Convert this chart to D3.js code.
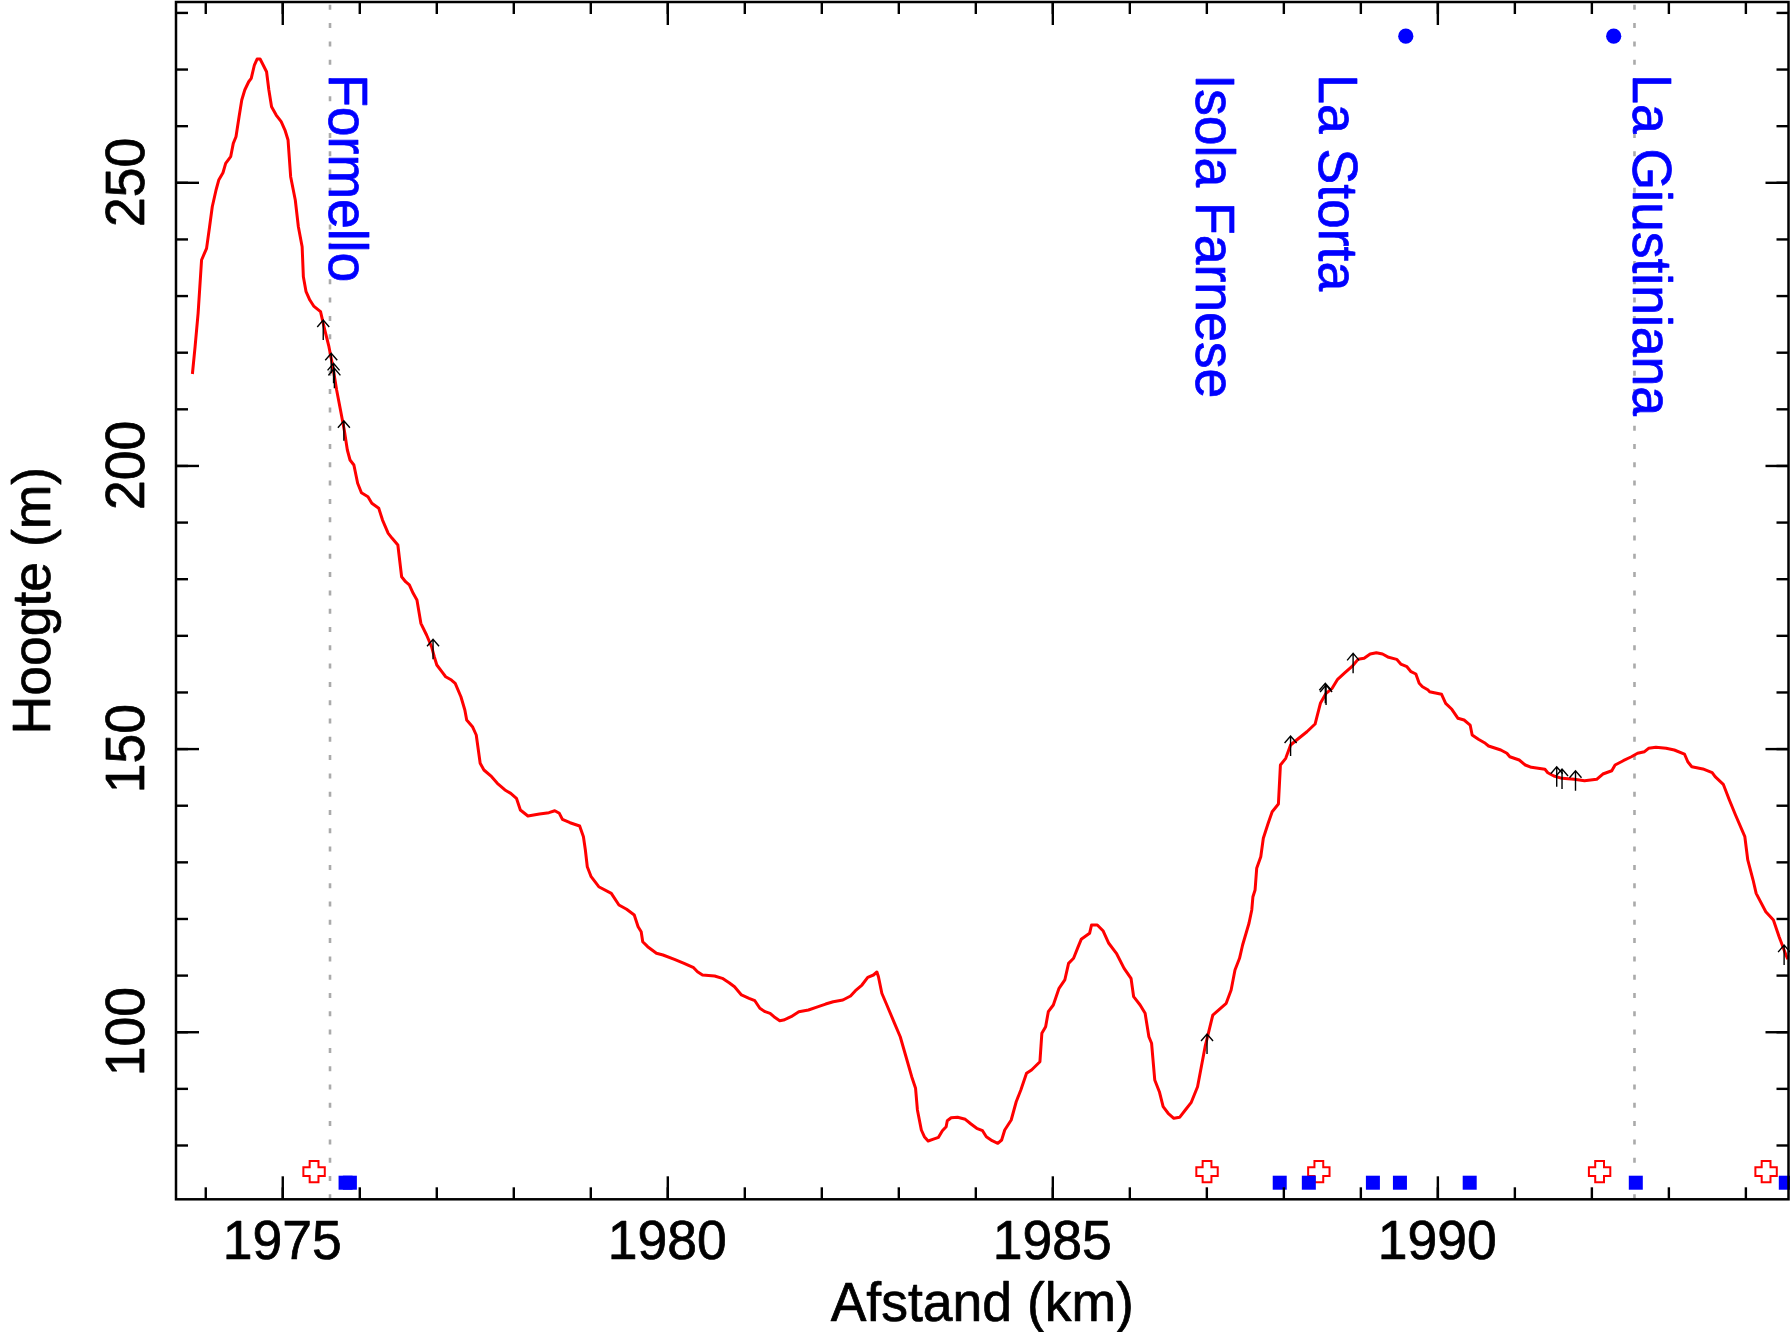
<!DOCTYPE html>
<html>
<head>
<meta charset="utf-8">
<script src="https://cdn.jsdelivr.net/npm/d3@7"></script>
<style>
  html, body { margin: 0; padding: 0; background: #fff; }
  svg { display: block; }
  text { font-family: "Liberation Sans", Arial, Helvetica, sans-serif; }
</style>
</head>
<body>
<svg id="chart" width="1790" height="1332"></svg>
<script>
// ---------------- DATA ----------------
const profileKm = [
  1973.833,1973.868,1973.907,1973.952,1974.017,1974.056,1974.091,1974.14,1974.175,1974.23,
  1974.265,1974.33,1974.364,1974.399,1974.439,1974.474,1974.513,1974.564,1974.597,1974.638,
  1974.673,1974.712,1974.752,1974.796,1974.826,1974.861,1974.921,1974.986,1975.035,1975.075,
  1975.109,1975.169,1975.209,1975.258,1975.274,1975.309,1975.358,1975.408,1975.497,1975.547,
  1975.606,1975.657,1975.706,1975.756,1975.805,1975.845,1975.88,1975.93,1975.979,1976.028,
  1976.113,1976.163,1976.253,1976.302,1976.376,1976.427,1976.501,1976.55,1976.601,1976.65,
  1976.7,1976.749,1976.8,1976.874,1976.939,1976.974,1977.007,1977.072,1977.122,1977.197,
  1977.246,1977.32,1977.371,1977.395,1977.47,1977.519,1977.57,1977.619,1977.719,1977.793,
  1977.892,1977.967,1978.041,1978.092,1978.19,1978.34,1978.463,1978.539,1978.598,1978.638,
  1978.737,1978.862,1978.911,1978.936,1978.961,1979.011,1979.11,1979.273,1979.372,1979.472,
  1979.571,1979.621,1979.661,1979.681,1979.745,1979.859,1979.944,1980.093,1980.218,1980.342,
  1980.392,1980.457,1980.615,1980.715,1980.803,1980.873,1980.963,1981.062,1981.137,1981.202,
  1981.27,1981.335,1981.385,1981.46,1981.51,1981.608,1981.708,1981.833,1981.932,1982.056,
  1982.155,1982.28,1982.38,1982.443,1982.528,1982.603,1982.677,1982.722,1982.742,1982.786,
  1982.851,1982.951,1983.025,1983.1,1983.174,1983.224,1983.248,1983.299,1983.338,1983.387,
  1983.447,1983.522,1983.572,1983.621,1983.636,1983.686,1983.77,1983.87,1983.944,1984.018,
  1984.094,1984.143,1984.218,1984.292,1984.342,1984.382,1984.466,1984.531,1984.591,1984.665,
  1984.73,1984.839,1984.864,1984.913,1984.948,1985.013,1985.087,1985.162,1985.211,1985.276,
  1985.336,1985.375,1985.484,1985.509,1985.584,1985.658,1985.733,1985.832,1985.932,1986.022,
  1986.056,1986.14,1986.205,1986.254,1986.289,1986.33,1986.39,1986.439,1986.504,1986.578,
  1986.653,1986.727,1986.802,1986.886,1986.935,1986.984,1987.084,1987.258,1987.322,1987.372,
  1987.431,1987.471,1987.554,1987.59,1987.605,1987.633,1987.654,1987.707,1987.74,1987.803,
  1987.855,1987.936,1987.962,1988.031,1988.094,1988.173,1988.306,1988.412,1988.481,1988.555,
  1988.634,1988.705,1988.8,1988.889,1988.97,1989.049,1989.128,1989.208,1989.288,1989.367,
  1989.472,1989.525,1989.605,1989.658,1989.721,1989.764,1989.807,1989.881,1989.897,1990.055,
  1990.108,1990.188,1990.268,1990.347,1990.426,1990.452,1990.533,1990.623,1990.665,1990.824,
  1990.903,1990.941,1991.063,1991.142,1991.221,1991.397,1991.434,1991.513,1991.619,1991.778,
  1991.911,1992.069,1992.149,1992.265,1992.308,1992.414,1992.52,1992.6,1992.69,1992.743,
  1992.838,1992.971,1993.077,1993.209,1993.252,1993.304,1993.448,1993.569,1993.607,1993.713,
  1993.792,1993.872,1993.993,1994.031,1994.1,1994.14,1994.265,1994.364,1994.438,1994.527,
  1994.55
];
const profileElev = [
  216.15,220.97,226.86,236.28,238.34,242.16,245.69,248.64,250.40,251.69,
  253.35,254.52,256.88,258.05,261.58,264.53,266.3,267.76,268.36,270.71,
  271.77,271.77,270.71,269.53,266.3,263.35,261.88,260.7,259.23,257.47,
  250.99,246.87,242.16,238.63,233.33,230.68,229.21,228.15,227.15,224.21,
  220.97,217.44,213.32,209.79,206.26,202.73,200.96,200.08,196.85,195.18,
  194.48,193.31,192.43,190.36,188.01,187.13,185.95,180.35,179.47,178.89,
  177.42,176.24,172.12,170.06,167.99,166.22,164.76,163.58,162.69,162.11,
  161.53,159.16,156.81,155.05,153.86,152.4,147.41,146.22,145.04,143.87,
  142.69,142.1,141.22,139.15,138.09,138.45,138.68,139.03,138.57,137.51,
  136.91,136.33,134.44,132.09,129.14,127.38,125.61,124.44,122.38,121.62,
  120.61,118.55,117.66,115.9,115.02,113.85,113.55,112.79,112.08,111.31,
  110.6,110.02,109.84,109.43,108.66,107.95,106.49,105.9,105.48,104.14,
  103.54,103.25,102.65,101.95,102.07,102.65,103.54,103.84,104.31,104.89,
  105.3,105.6,106.31,107.25,108.25,109.61,110.02,110.55,109.72,106.79,
  104.72,101.49,99.12,95.59,92.06,90.01,86.18,82.65,81.46,80.7,
  81.0,81.36,82.52,83.23,84.29,84.82,84.89,84.54,83.71,82.95,
  82.52,81.46,80.76,80.3,80.88,82.65,84.41,87.64,89.71,92.66,
  93.24,94.71,99.72,100.89,103.54,104.72,107.67,109.14,112.08,112.97,
  115.02,116.32,117.38,118.85,118.85,117.84,115.62,113.85,111.2,109.43,
  106.19,104.72,103.25,99.12,97.96,91.48,89.41,86.76,85.6,84.71,
  84.89,86.18,87.47,90.29,93.83,97.36,102.95,105.02,107.37,110.9,
  112.97,115.32,119.15,121.5,123.84,125.03,128.86,130.91,134.16,136.81,
  138.85,140.22,147.1,148.28,150.63,151.52,152.98,154.34,157.99,159.76,
  160.64,162.23,163.4,164.46,165.76,165.94,166.7,166.93,166.7,166.12,
  165.76,164.93,164.46,163.58,163.17,161.53,160.93,160.34,160.05,159.59,
  157.99,156.94,155.35,155.05,154.16,152.4,151.64,150.93,150.46,149.75,
  149.17,148.56,147.98,147.1,146.69,146.34,145.74,145.16,144.75,144.57,
  144.33,144.57,145.51,146.09,147.1,147.86,148.56,149.17,149.45,150.05,
  150.22,150.05,149.75,149.04,147.68,146.8,146.4,145.74,145.04,143.69,
  140.92,138.27,134.44,130.33,126.79,124.44,121.2,119.73,116.78,113.55,
  112.8
];

// arrows: km and elevation of the arrow tip
const arrowKm   = [1975.532,1975.636,1975.666,1975.677,1975.80,1976.958,1987.009,1988.094,1988.545,1988.555,1988.906,1991.55,1991.619,1991.794,1994.503];
const arrowElev = [225.68,219.8,218.03,217.15,207.9,169.3,99.6,152.22,161.53,161.23,166.82,146.8,146.4,146.09,115.3];

// red outlined crosses
const crossKm = [1975.413,1987.009,1988.461,1992.107,1994.269];
const crossElev = [75.3,75.3,75.3,75.3,75.3];

// blue squares
const squareKm = [1975.822,1975.878,1987.953,1988.331,1989.163,1989.514,1990.42,1992.577,1994.525];
const squareElev = [73.34,73.34,73.34,73.34,73.34,73.34,73.34,73.34,73.34];

// blue dots at top
const dotKm = [1989.59,1992.29];
const dotElev = [275.8,275.8];

// place names
const placeNames = ["Formello","Isola Farnese","La Storta","La Giustiniana"];
const placeKm    = [1975.605,1986.86,1988.466,1992.545];
const placeElev  = [269.1,269.1,269.1,269.1];

// dotted vertical reference lines
const vlineKm = [1975.62,1992.56];

// ticks
const xMajor = [1975,1980,1985,1990];
const xMinor = d3.range(1974,1995,1);
const yMajor = [100,150,200,250];
const yMinor = d3.range(80,290,10);

const xTitle = "Afstand (km)";
const yTitle = "Hoogte (m)";

// ---------------- LAYOUT ----------------
const L = 176, R = 1788.5, T = 2, B = 1199.3;
const FS = 53.5, GH = 1.05, TSW = 0.7;   // font size, glyph-height stretch, text stroke
const svg = d3.select("#chart");
svg.append("rect").attr("width",1790).attr("height",1332).attr("fill","#fff");

const x = d3.scaleLinear().domain([1973.62,1994.56]).range([L,R]);
const y = d3.scaleLinear().domain([70.41,281.84]).range([B,T]);

function txt(g, color){
  return g.attr("font-size",FS).attr("fill",color)
    .attr("stroke",color).attr("stroke-width",TSW).attr("stroke-linejoin","round");
}

// dotted lines
svg.append("g").selectAll("line").data(vlineKm).join("line")
  .attr("x1", d=>x(d)).attr("x2", d=>x(d))
  .attr("y1", y(y.domain()[0])).attr("y2", y(y.domain()[1]))
  .attr("stroke","#aaaaaa").attr("stroke-width",2.6)
  .attr("stroke-dasharray","5,13.3");

// profile
const profile = profileKm.map((k,i)=>[k,profileElev[i]]);
svg.append("path").datum(profile)
  .attr("d", d3.line().x(d=>x(d[0])).y(d=>y(d[1])))
  .attr("fill","none").attr("stroke","#ff0000").attr("stroke-width",3)
  .attr("stroke-linejoin","round");

// arrows
const ARROW_LEN = 20, HEAD_W = 6, HEAD_H = 7;
const arrows = svg.append("g").attr("stroke","#000").attr("stroke-width",1.4).attr("fill","none");
arrowKm.forEach((k,i)=>{
  const ax = x(k), ay = y(arrowElev[i]);
  arrows.append("path")
    .attr("d", `M${ax},${ay+ARROW_LEN}L${ax},${ay}M${ax-HEAD_W},${ay+HEAD_H}L${ax},${ay}L${ax+HEAD_W},${ay+HEAD_H}`);
});

// crosses
const cs = 10.7, ca = 4.4;
const crossPath = `M${-ca},${-cs}H${ca}V${-ca}H${cs}V${ca}H${ca}V${cs}H${-ca}V${ca}H${-cs}V${-ca}H${-ca}Z`;
svg.append("g").selectAll("path").data(crossKm).join("path")
  .attr("transform",(d,i)=>`translate(${x(d)},${y(crossElev[i])})`)
  .attr("d", crossPath)
  .attr("fill","#fff").attr("stroke","#ff0000").attr("stroke-width",2);

// squares
const sq = 14;
svg.append("g").selectAll("rect").data(squareKm).join("rect")
  .attr("x", d=>x(d)-sq/2).attr("y",(d,i)=>y(squareElev[i])-sq/2)
  .attr("width",sq).attr("height",sq).attr("fill","#0000ff");

// dots
svg.append("g").selectAll("circle").data(dotKm).join("circle")
  .attr("cx", d=>x(d)).attr("cy",(d,i)=>y(dotElev[i])).attr("r",7.6)
  .attr("fill","#0000ff");

// place labels
txt(svg.append("g"), "#0000ff").selectAll("text").data(placeNames).join("text")
  .attr("transform",(d,i)=>`translate(${x(placeKm[i])},${y(placeElev[i])}) rotate(90) scale(1,${GH})`)
  .attr("text-anchor","start")
  .text(d=>d);

// ---------------- AXES ----------------
function styleAxis(g){
  g.select(".domain").remove();
  g.selectAll(".tick line").attr("stroke","#000").attr("stroke-width",2.4);
  g.selectAll(".tick text").remove();
}
// bottom
svg.append("g").attr("transform",`translate(0,${B})`)
  .call(d3.axisBottom(x).tickValues(xMinor).tickSize(-12).tickSizeOuter(0)).call(styleAxis);
svg.append("g").attr("transform",`translate(0,${B})`)
  .call(d3.axisBottom(x).tickValues(xMajor).tickSize(-23).tickSizeOuter(0)).call(styleAxis);
// top
svg.append("g").attr("transform",`translate(0,${T})`)
  .call(d3.axisTop(x).tickValues(xMinor).tickSize(-12).tickSizeOuter(0)).call(styleAxis);
svg.append("g").attr("transform",`translate(0,${T})`)
  .call(d3.axisTop(x).tickValues(xMajor).tickSize(-23).tickSizeOuter(0)).call(styleAxis);
// left
svg.append("g").attr("transform",`translate(${L},0)`)
  .call(d3.axisLeft(y).tickValues(yMinor).tickSize(-12).tickSizeOuter(0)).call(styleAxis);
svg.append("g").attr("transform",`translate(${L},0)`)
  .call(d3.axisLeft(y).tickValues(yMajor).tickSize(-23).tickSizeOuter(0)).call(styleAxis);
// right
svg.append("g").attr("transform",`translate(${R},0)`)
  .call(d3.axisRight(y).tickValues(yMinor).tickSize(-12).tickSizeOuter(0)).call(styleAxis);
svg.append("g").attr("transform",`translate(${R},0)`)
  .call(d3.axisRight(y).tickValues(yMajor).tickSize(-23).tickSizeOuter(0)).call(styleAxis);

// frame
svg.append("rect").attr("x",L).attr("y",T).attr("width",R-L).attr("height",B-T)
  .attr("fill","none").attr("stroke","#000").attr("stroke-width",2.5);

// tick labels
txt(svg.append("g"), "#000").selectAll("text").data(xMajor).join("text")
  .attr("transform", d=>`translate(${x(d)},${B+59.5}) scale(1,${GH})`)
  .attr("text-anchor","middle")
  .text(d=>d);
txt(svg.append("g"), "#000").selectAll("text").data(yMajor).join("text")
  .attr("transform", d=>`translate(${L-32.5},${y(d)}) rotate(-90) scale(1,${GH})`)
  .attr("text-anchor","middle")
  .text(d=>d);

// titles
txt(svg.append("text"), "#000")
  .attr("transform",`translate(${(L+R)/2},${B+121.4}) scale(1,${GH})`)
  .attr("text-anchor","middle").text(xTitle);
txt(svg.append("text"), "#000")
  .attr("transform",`translate(${49.5},${(T+B)/2}) rotate(-90)`)
  .attr("text-anchor","middle").text(yTitle);
</script>
</body>
</html>
